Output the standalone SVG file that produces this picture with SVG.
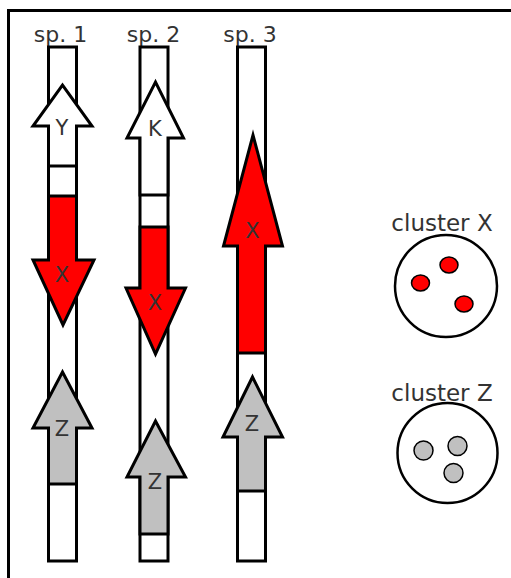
<svg xmlns="http://www.w3.org/2000/svg" width="511" height="578" viewBox="0 0 511 578">
<style>
.frame{fill:none;stroke:#000;stroke-width:3}
.chr{fill:#fff;stroke:#000;stroke-width:3}
.arr{stroke:#000;stroke-width:3;stroke-linejoin:miter}
.white{fill:#fff}
.red{fill:#ff0000}
.grey{fill:#c0c0c0}
.lbl{font-family:"DejaVu Sans",sans-serif;font-size:22px;fill:#333;text-anchor:middle}
.clb{font-family:"DejaVu Sans",sans-serif;font-size:23px;fill:#333;text-anchor:middle}
.alb{font-family:"DejaVu Sans",sans-serif;font-size:21px;fill:#333;text-anchor:middle}
.cl{fill:#fff;stroke:#000;stroke-width:2.5}
.dot{stroke:#000;stroke-width:1.5}
</style>
<rect width="511" height="578" fill="#fff"/>
<path class="frame" d="M8.5,578 V10.5 H511"/>
<g id="sp1">
<text class="lbl" x="60.5" y="42">sp. 1</text>
<rect class="chr" x="48.5" y="47" width="28" height="514"/>
<polygon class="arr white" points="48.5,166 48.5,126 33,126 62.5,85 92,126 76.5,126 76.5,166"/>
<text class="alb" x="62" y="135">Y</text>
<polygon class="arr red" points="48.5,196 76.5,196 76.5,260 94,260 63,325 33,260 48.5,260"/>
<text class="alb" x="62" y="282">X</text>
<polygon class="arr grey" points="48.5,484 48.5,428 33,428 62.5,372 92,428 76.5,428 76.5,484"/>
<text class="alb" x="62" y="436">Z</text>
</g>
<g id="sp2">
<text class="lbl" x="153.5" y="42">sp. 2</text>
<rect class="chr" x="140" y="47" width="28" height="514"/>
<polygon class="arr white" points="140,195 140,138 127,138 155.5,82 183.5,138 168,138 168,195"/>
<text class="alb" x="155" y="136">K</text>
<polygon class="arr red" points="140,227 168,227 168,288 185.5,288 155.5,354 126,288 140,288"/>
<text class="alb" x="155" y="310">X</text>
<polygon class="arr grey" points="140,534 140,477 127,477 155.5,421 185.5,477 168,477 168,534"/>
<text class="alb" x="155" y="489">Z</text>
</g>
<g id="sp3">
<text class="lbl" x="250" y="42">sp. 3</text>
<rect class="chr" x="237.5" y="47" width="28" height="514"/>
<polygon class="arr red" points="237.5,353 237.5,246 223.5,246 253,135 282.5,246 265.5,246 265.5,353"/>
<text class="alb" x="252.5" y="238">X</text>
<polygon class="arr grey" points="237.5,491 237.5,437 223,437 252.5,377 282.5,437 265.5,437 265.5,491"/>
<text class="alb" x="252" y="431">Z</text>
</g>
<g id="clusterX">
<text class="clb" x="442" y="231">cluster X</text>
<circle class="cl" cx="446" cy="286" r="51"/>
<ellipse class="dot red" cx="449" cy="265" rx="9" ry="8"/>
<ellipse class="dot red" cx="420.5" cy="283" rx="9" ry="8"/>
<ellipse class="dot red" cx="464" cy="304" rx="9" ry="8"/>
</g>
<g id="clusterZ">
<text class="clb" x="442" y="401">cluster Z</text>
<circle class="cl" cx="447.5" cy="453" r="50"/>
<circle class="dot grey" cx="423.5" cy="450.5" r="9.5"/>
<circle class="dot grey" cx="457.5" cy="446" r="9.5"/>
<circle class="dot grey" cx="453.5" cy="473" r="9.5"/>
</g>
</svg>
